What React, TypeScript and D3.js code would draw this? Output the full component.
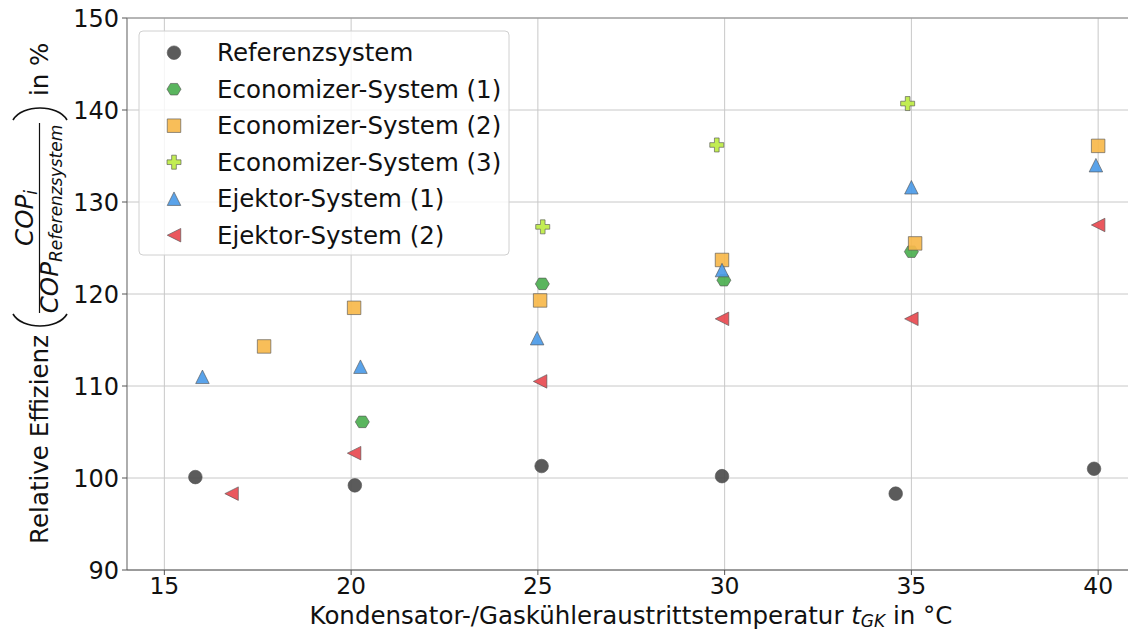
import React, { useEffect, useRef } from 'react';
import * as d3 from 'd3';

// Temperatures (x) and relative efficiency (y) per system
const refX = [15.83, 20.1, 25.1, 29.93, 34.58, 39.89];
const refY = [100.1, 99.2, 101.3, 100.2, 98.3, 101.0];
const eco1X = [20.3, 25.12, 29.98, 35.0];
const eco1Y = [106.1, 121.1, 121.5, 124.6];
const eco2X = [17.67, 20.08, 25.06, 29.93, 35.1, 40.0];
const eco2Y = [114.3, 118.5, 119.3, 123.7, 125.5, 136.1];
const eco3X = [25.13, 29.79, 34.9];
const eco3Y = [127.3, 136.2, 140.7];
const ejk1X = [16.02, 20.25, 24.98, 29.93, 35.0, 39.94];
const ejk1Y = [111.0, 112.1, 115.2, 122.6, 131.6, 134.0];
const ejk2X = [16.8, 20.08, 25.06, 29.93, 35.0, 40.0];
const ejk2Y = [98.3, 102.7, 110.5, 117.3, 117.3, 127.5];

const seriesNames = [
  'Referenzsystem',
  'Economizer-System (1)',
  'Economizer-System (2)',
  'Economizer-System (3)',
  'Ejektor-System (1)',
  'Ejektor-System (2)',
];
const seriesColors = ['#4d4d4d', '#4caf50', '#f7b84b', '#bdec44', '#4c9be8', '#e84a50'];
const seriesShapes = ['circle', 'hexagon', 'square', 'plus', 'triangleUp', 'triangleLeft'];

const xTicks = [15, 20, 25, 30, 35, 40];
const yTicks = [90, 100, 110, 120, 130, 140, 150];

const FONT = '"DejaVu Sans", sans-serif';
const FS = 24.5;

// custom symbol types (size = extent^2, like matplotlib markersize)
const hexagonFlat: d3.SymbolType = {
  draw(ctx, size) {
    const r = Math.sqrt(size) / 2;
    for (let i = 0; i < 6; i++) {
      const a = (Math.PI / 3) * i;
      const px = r * Math.cos(a), py = r * Math.sin(a) * 0.95;
      if (i === 0) ctx.moveTo(px, py); else ctx.lineTo(px, py);
    }
    ctx.closePath();
  },
};
const triUp: d3.SymbolType = {
  draw(ctx, size) {
    const r = Math.sqrt(size) / 2;
    ctx.moveTo(0, -r);
    ctx.lineTo(r, r);
    ctx.lineTo(-r, r);
    ctx.closePath();
  },
};
const triLeft: d3.SymbolType = {
  draw(ctx, size) {
    const r = Math.sqrt(size) / 2;
    ctx.moveTo(-r, 0);
    ctx.lineTo(r, -r);
    ctx.lineTo(r, r);
    ctx.closePath();
  },
};

function markerPath(shape: string) {
  switch (shape) {
    case 'circle': return d3.symbol(d3.symbolCircle, Math.PI * 6.8 * 6.8)();
    case 'square': return d3.symbol(d3.symbolSquare, 13.5 * 13.5)();
    case 'plus': return d3.symbol(d3.symbolCross, 5 * Math.pow(14 / 3, 2))();
    case 'hexagon': return d3.symbol(hexagonFlat, 14 * 14)();
    case 'triangleUp': return d3.symbol(triUp, 13.5 * 13.5)();
    default: return d3.symbol(triLeft, 13.5 * 13.5)();
  }
}

const App: React.FC = () => {
  const svgRef = useRef<SVGSVGElement>(null);

  useEffect(() => {
    if (!svgRef.current) return;
    const svg = d3.select(svgRef.current);
    svg.selectAll('*').remove();

    const x = d3.scaleLinear().domain([14, 41]).range([127, 1135.5]);
    const y = d3.scaleLinear().domain([90, 150]).range([570, 18]);

    const xs = [refX, eco1X, eco2X, eco3X, ejk1X, ejk2X];
    const ys = [refY, eco1Y, eco2Y, eco3Y, ejk1Y, ejk2Y];

    // grid
    const grid = svg.append('g');
    grid.selectAll('.gx').data(xTicks).enter().append('line')
      .attr('x1', d => x(d)).attr('x2', d => x(d))
      .attr('y1', y(150)).attr('y2', y(90))
      .attr('stroke', '#c8c8c8').attr('stroke-width', 1);
    grid.selectAll('.gy').data(yTicks).enter().append('line')
      .attr('x1', x(14)).attr('x2', x(41))
      .attr('y1', d => y(d)).attr('y2', d => y(d))
      .attr('stroke', '#c8c8c8').attr('stroke-width', 1);

    // spines
    svg.append('line').attr('x1', x(14)).attr('x2', x(14)).attr('y1', y(150)).attr('y2', y(90))
      .attr('stroke', '#777').attr('stroke-width', 1.2);
    svg.append('line').attr('x1', x(14)).attr('x2', x(41)).attr('y1', y(90)).attr('y2', y(90))
      .attr('stroke', '#555').attr('stroke-width', 1.2);
    svg.append('line').attr('x1', x(14)).attr('x2', x(41)).attr('y1', y(150)).attr('y2', y(150))
      .attr('stroke', '#888').attr('stroke-width', 1.2);

    // ticks + labels
    svg.selectAll('.xt').data(xTicks).enter().append('line')
      .attr('x1', d => x(d)).attr('x2', d => x(d)).attr('y1', y(90)).attr('y2', y(90) + 5)
      .attr('stroke', '#555');
    svg.selectAll('.xl').data(xTicks).enter().append('text')
      .attr('x', d => x(d)).attr('y', 594)
      .attr('text-anchor', 'middle').attr('font-family', FONT).attr('font-size', 23.5)
      .attr('fill', '#111').text(d => d);
    svg.selectAll('.yt').data(yTicks).enter().append('line')
      .attr('x1', x(14) - 5).attr('x2', x(14)).attr('y1', d => y(d)).attr('y2', d => y(d))
      .attr('stroke', '#555');
    svg.selectAll('.yl').data(yTicks).enter().append('text')
      .attr('x', 119).attr('y', d => y(d)).attr('dy', '0.36em')
      .attr('text-anchor', 'end').attr('font-family', FONT).attr('font-size', 24)
      .attr('fill', '#111').text(d => d);

    // x axis label
    const xl = svg.append('text')
      .attr('x', 631).attr('y', 624).attr('text-anchor', 'middle')
      .attr('font-family', FONT).attr('font-size', FS).attr('fill', '#111');
    xl.append('tspan').text('Kondensator-/Gaskühleraustrittstemperatur ');
    xl.append('tspan').attr('font-style', 'italic').text('t');
    xl.append('tspan').attr('font-size', 17).attr('font-style', 'italic').attr('dy', 3).text('GK');
    xl.append('tspan').attr('dy', -3).text(' in °C');

    // y axis label (rotated, with fraction)
    const yl = svg.append('g').attr('transform', 'rotate(-90)')
      .attr('font-family', FONT).attr('fill', '#111');
    yl.append('text').attr('x', -335).attr('y', 48).attr('font-size', FS)
      .attr('text-anchor', 'end').text('Relative Effizienz');
    yl.append('text').attr('x', -96).attr('y', 48).attr('font-size', FS).text('in %');
    const num = yl.append('text').attr('x', -218).attr('y', 33)
      .attr('text-anchor', 'middle').attr('font-size', FS);
    num.append('tspan').attr('font-style', 'italic').text('COP');
    num.append('tspan').attr('font-style', 'italic').attr('font-size', 17).attr('dy', 4).text('i');
    const den = yl.append('text').attr('x', -219).attr('y', 58)
      .attr('text-anchor', 'middle').attr('font-size', FS);
    den.append('tspan').attr('font-style', 'italic').text('COP');
    den.append('tspan').attr('font-style', 'italic').attr('font-size', 17).attr('dy', 4).text('Referenzsystem');
    svg.append('line').attr('x1', 39.5).attr('x2', 39.5).attr('y1', 123).attr('y2', 313)
      .attr('stroke', '#111').attr('stroke-width', 1.2);
    svg.append('path').attr('d', 'M13,314 C22,330 58,330 67,314')
      .attr('fill', 'none').attr('stroke', '#111').attr('stroke-width', 1.6);
    svg.append('path').attr('d', 'M13,120 C22,104 58,104 67,120')
      .attr('fill', 'none').attr('stroke', '#111').attr('stroke-width', 1.6);

    // points
    seriesNames.forEach((name, i) => {
      const pts = xs[i].map((v, j) => [v, ys[i][j]]);
      svg.append('g').selectAll('path').data(pts).enter().append('path')
        .attr('d', markerPath(seriesShapes[i]))
        .attr('transform', d => `translate(${x(d[0])},${y(d[1])})`)
        .attr('fill', seriesColors[i]).attr('fill-opacity', 0.92)
        .attr('stroke', '#555').attr('stroke-opacity', 0.7).attr('stroke-width', 0.9);
    });

    // legend
    const lg = svg.append('g');
    lg.append('rect').attr('x', 139).attr('y', 31).attr('width', 370).attr('height', 224)
      .attr('rx', 4).attr('fill', '#fff').attr('fill-opacity', 0.8)
      .attr('stroke', '#d0d0d0').attr('stroke-width', 1);
    seriesNames.forEach((name, i) => {
      const cy = 52.7 + i * 36.5;
      lg.append('path').attr('d', markerPath(seriesShapes[i]))
        .attr('transform', `translate(174,${cy})`)
        .attr('fill', seriesColors[i]).attr('fill-opacity', 0.92)
        .attr('stroke', '#555').attr('stroke-opacity', 0.7).attr('stroke-width', 0.9);
      lg.append('text').attr('x', 217).attr('y', cy + 8.5)
        .attr('font-family', FONT).attr('font-size', FS).attr('fill', '#111').text(name);
    });
  }, []);

  return (
    <div style={{ position: 'absolute', left: 0, top: 0 }}>
      <svg ref={svgRef} width={1128} height={631} style={{ display: 'block', background: '#fff' }} />
    </div>
  );
};

export default App;
